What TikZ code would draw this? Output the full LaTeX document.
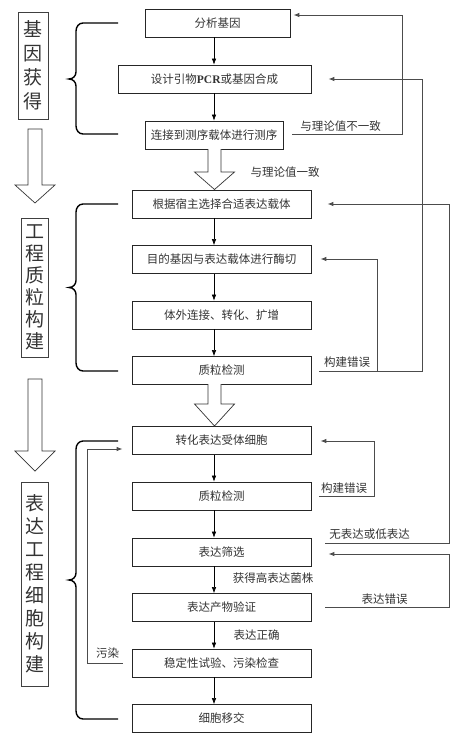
\documentclass[tikz,border=0pt]{standalone}
\usepackage{fontspec}
\setmainfont{Liberation Serif}
\newfontfamily\cjk{Noto Sans CJK SC}
\usetikzlibrary{arrows.meta,calc}
\begin{document}
\begin{tikzpicture}[x=1pt,y=-1pt,
 box/.style={draw=black!85,line width=0.8pt,minimum height=28pt,inner sep=0pt,font=\cjk\fontsize{11.5}{13}\selectfont,text=black!80},
 side/.style={draw=black!75,line width=0.9pt,inner sep=0pt,align=center,text=black!80},
 flow/.style={draw=black,line width=0.6pt,-{Latex[length=6pt,width=4.5pt]}},
 fb/.style={draw=black!70,line width=0.9pt},
 fbarr/.style={fb,-{Latex[length=6pt,width=4.5pt]}},
 lbl/.style={font=\cjk\fontsize{11.5}{13}\selectfont,text=black!80,inner sep=0pt},
 hollow/.style={draw=black!80,line width=0.7pt,fill=white},
 brace/.style={draw=black,line width=1.4pt}
]
\path[use as bounding box] (0,0) rectangle (456,744);

% main boxes
\node[box,minimum width=145pt] (b1) at (217.5,23) {分析基因};
\node[box,minimum width=193pt] (b2) at (214.5,79) {设计引物{\rmfamily\bfseries PCR}或基因合成};
\node[box,minimum width=138pt] (b3) at (214,135) {连接到测序载体进行测序};
\node[box,minimum width=179pt] (b4) at (221.5,204) {根据宿主选择合适表达载体};
\node[box,minimum width=179pt] (b5) at (221.5,259.5) {目的基因与表达载体进行酶切};
\node[box,minimum width=179pt] (b6) at (221.5,315) {体外连接、转化、扩增};
\node[box,minimum width=179pt] (b7) at (221.5,370.5) {质粒检测};
\node[box,minimum width=179pt] (b8) at (221.5,440.5) {转化表达受体细胞};
\node[box,minimum width=179pt] (b9) at (221.5,496) {质粒检测};
\node[box,minimum width=179pt] (b10) at (221.5,552) {表达筛选};
\node[box,minimum width=179pt] (b11) at (221.5,607.5) {表达产物验证};
\node[box,minimum width=179pt] (b12) at (221.5,663) {稳定性试验、污染检查};
\node[box,minimum width=179pt] (b13) at (221.5,718.5) {细胞移交};

% side labels
\node[side,minimum width=30pt,minimum height=107pt,font=\cjk\fontsize{19}{24}\selectfont] (s1) at (33,65.5) {基\\因\\获\\得};
\node[side,minimum width=27pt,minimum height=139pt,font=\cjk\fontsize{19}{22}\selectfont] (s2) at (34.5,287.5) {工\\程\\质\\粒\\构\\建};
\node[side,minimum width=27pt,minimum height=204pt,font=\cjk\fontsize{19}{23}\selectfont] (s3) at (34.5,584) {表\\达\\工\\程\\细\\胞\\构\\建};

% vertical flow arrows
\coordinate (col) at (214,0);
\foreach \a/\b in {b1/b2,b2/b3,b4/b5,b5/b6,b6/b7,b8/b9,b9/b10,b10/b11,b11/b12,b12/b13}
  \draw[flow] (\a.south -| col) -- (\b.north -| col);

% hollow arrows
\draw[hollow] (208,149) -- (208,172) -- (194.5,172) -- (214.5,189.5) -- (234.5,172) -- (221,172) -- (221,149);
\draw[hollow] (208,384) -- (208,404) -- (194.5,404) -- (214.5,426) -- (234.5,404) -- (221,404) -- (221,384);
\draw[hollow] (28,129) -- (28,185) -- (15,185) -- (35,203) -- (55,185) -- (42,185) -- (42,129) -- cycle;
\draw[hollow] (28,379) -- (28,451) -- (15,451) -- (35,471) -- (55,451) -- (42,451) -- (42,379) -- cycle;

% braces
\foreach \t/\m/\u in {23/79/134, 204/287.5/371, 441/580/719}
  \draw[brace] (118,\t) -- (83,\t) to[out=180,in=90] (76,\t+8) -- (76,\m-7)
    to[out=-90,in=0] (69,\m) to[out=0,in=90] (76,\m+7) -- (76,\u-8)
    to[out=-90,in=180] (83,\u) -- (118,\u);

% feedback A
\coordinate (sA) at ($(b3.east)+(9,-1)$);
\coordinate (tA) at ($(b1.east)+(3,-8)$);
\coordinate (xA) at (402,0);
\draw[fbarr] (sA) -- (sA -| xA) -- (tA -| xA) -- (tA);
\node[lbl] (lA) at (340.5,126) {与理论值不一致};

% feedback B
\coordinate (sB) at ($(b7.east)+(8,0.5)$);
\coordinate (tB) at ($(b2.east)+(17,0)$);
\coordinate (xB) at (422,0);
\coordinate (xB2) at (377,0);
\coordinate (tB2) at ($(b5.east)+(9,-0.5)$);
\draw[fbarr] (sB) -- (sB -| xB) -- (tB -| xB) -- (tB);
\draw[fbarr] (sB -| xB2) -- (tB2 -| xB2) -- (tB2);
\node[lbl] (lB) at (347,362) {构建错误};

% feedback C
\coordinate (sC) at ($(b10.east)+(14,-9)$);
\coordinate (tC) at ($(b4.east)+(16,0)$);
\coordinate (xC) at (449,0);
\draw[fbarr] (sC) -- (sC -| xC) -- (tC -| xC) -- (tC);
\node[lbl] (lC) at (369.5,534) {无表达或低表达};

% feedback D
\coordinate (sD) at ($(b9.east)+(8,0)$);
\coordinate (tD) at ($(b8.east)+(9,0.5)$);
\coordinate (xD) at (374,0);
\draw[fbarr] (sD) -- (sD -| xD) -- (tD -| xD) -- (tD);
\node[lbl] (lD) at (344,488) {构建错误};

% feedback E
\coordinate (sE) at ($(b11.east)+(14,-0.5)$);
\coordinate (tE) at ($(b10.east)+(17,2)$);
\draw[fbarr] (sE) -- (sE -| xC) -- (tE -| xC) -- (tE);
\node[lbl] (lE) at (384.5,599) {表达错误};

% feedback F
\coordinate (sF) at ($(b12.west)+(-9,0)$);
\coordinate (tF) at ($(b8.west)+(-9,8.5)$);
\coordinate (xF) at (87,0);
\draw[fbarr] (sF) -- (sF -| xF) -- (tF -| xF) -- (tF);
\node[lbl] (lF) at (107.5,653) {污染};

% flow labels
\node[lbl] (l1) at (285,172) {与理论值一致};
\node[lbl] (l2) at (273,578) {获得高表达菌株};
\node[lbl] (l3) at (256.5,635) {表达正确};
\end{tikzpicture}
\end{document}
